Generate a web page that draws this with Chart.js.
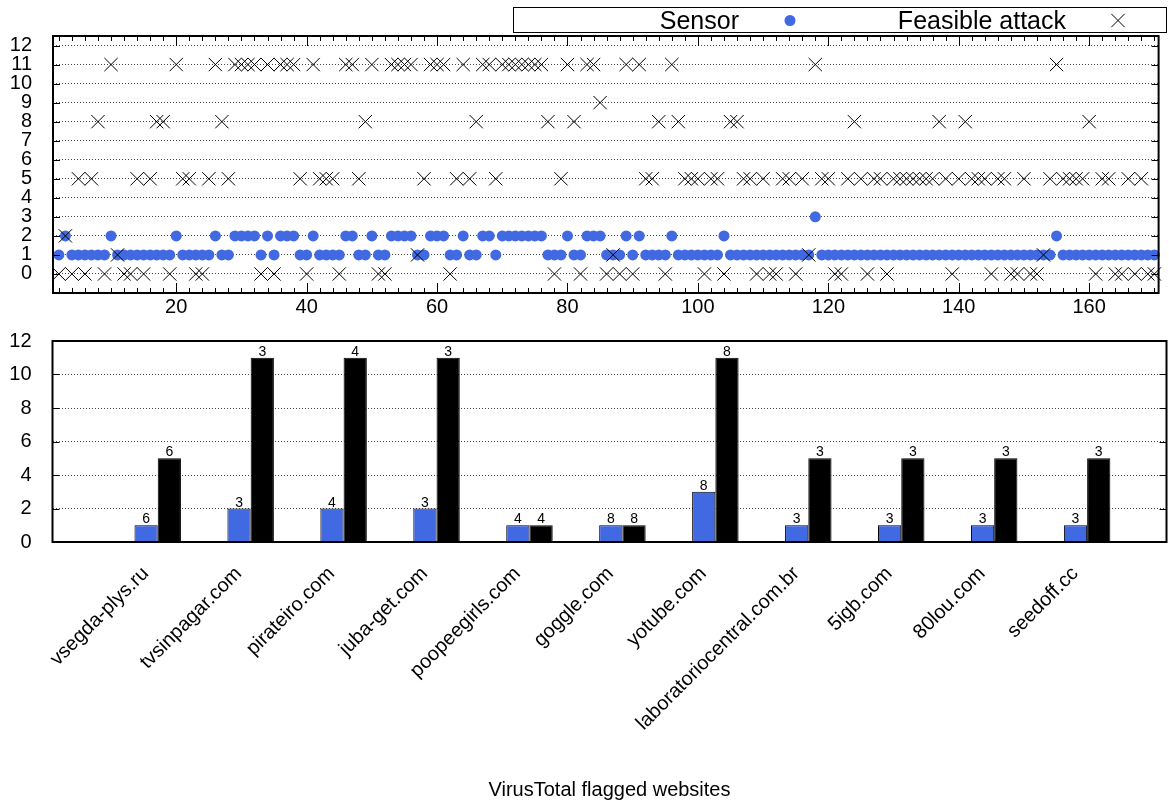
<!DOCTYPE html>
<html>
<head>
<meta charset="utf-8">
<title>Sensor vs feasible attack</title>
<script src="https://cdn.jsdelivr.net/npm/chart.js@4.4.1/dist/chart.umd.min.js"></script>
<style>
  html, body { margin: 0; padding: 0; background: #fff; }
  #wrap { position: relative; width: 1169px; height: 803px; overflow: hidden; background: #fff; }
  #topChart { position: absolute; left: 0; top: 0; width: 1169px; height: 320px; }
  #barChart { position: absolute; left: 0; top: 320px; width: 1169px; height: 483px; }
</style>
</head>
<body>
<div id="wrap">
  <canvas id="topChart" width="1169" height="320"></canvas>
  <canvas id="barChart" width="1169" height="483"></canvas>
</div>
<script>
// ---------- data: per-site levels (site numbers start at 2) ----------
const firstSite = 2;

const sensorLevels = [
  1, 2, 1, 1, 1, 1, 1, 1, 2, 1,   // 2..11
  1, 1, 1, 1, 1, 1, 1, 1, 2, 1,   // 12..21
  1, 1, 1, 1, 2, 1, 1, 2, 2, 2,   // 22..31
  2, 1, 2, 1, 2, 2, 2, 1, 1, 2,   // 32..41
  1, 1, 1, 1, 2, 2, 1, 1, 2, 1,   // 42..51
  1, 2, 2, 2, 2, 1, 1, 2, 2, 2,   // 52..61
  1, 1, 2, 1, 1, 2, 2, 1, 2, 2,   // 62..71
  2, 2, 2, 2, 2, 1, 1, 1, 2, 1,   // 72..81
  1, 2, 2, 2, 1, 1, 1, 2, 1, 2,   // 82..91
  1, 1, 1, 1, 2, 1, 1, 1, 1, 1,   // 92..101
  1, 1, 2, 1, 1, 1, 1, 1, 1, 1,   // 102..111
  1, 1, 1, 1, 1, 1, 3, 1, 1, 1,   // 112..121
  1, 1, 1, 1, 1, 1, 1, 1, 1, 1,   // 122..131
  1, 1, 1, 1, 1, 1, 1, 1, 1, 1,   // 132..141
  1, 1, 1, 1, 1, 1, 1, 1, 1, 1,   // 142..151
  1, 1, 1, 2, 1, 1, 1, 1, 1, 1,   // 152..161
  1, 1, 1, 1, 1, 1, 1, 1, 1       // 162..170
];

const attackLevels = [
  0, 2, 0, 5, 0, 5, 8, 0, 11, 1,      // 2..11
  0, 0, 5, 0, 5, 8, 8, 0, 11, 5,      // 12..21
  5, 0, 0, 5, 11, 8, 5, 11, 11, 11,   // 22..31
  11, 0, 11, 0, 11, 11, 11, 5, 0, 11, // 32..41
  5, 5, 5, 0, 11, 11, 5, 8, 11, 0,    // 42..51
  0, 11, 11, 11, 11, 1, 5, 11, 11, 11,// 52..61
  0, 5, 11, 5, 8, 11, 11, 5, 11, 11,  // 62..71
  11, 11, 11, 11, 11, 8, 0, 5, 11, 8, // 72..81
  0, 11, 11, 9, 0, 1, 0, 11, 0, 11,   // 82..91
  5, 5, 8, 0, 11, 8, 5, 5, 5, 0,      // 92..101
  5, 5, 0, 8, 8, 5, 5, 0, 5, 0,       // 102..111
  0, 5, 5, 0, 5, 1, 11, 5, 5, 0,      // 112..121
  0, 5, 8, 5, 0, 5, 5, 0, 5, 5,       // 122..131
  5, 5, 5, 5, 5, 8, 5, 0, 5, 8,       // 132..141
  5, 5, 5, 0, 5, 5, 0, 0, 5, 0,       // 142..151
  0, 1, 5, 11, 5, 5, 5, 5, 8, 0,      // 152..161
  5, 5, 0, 0, 5, 0, 5, 0, 0           // 162..170
];

const siteTicks = [20, 40, 60, 80, 100, 120, 140, 160];
const levelTicks = [0, 1, 2, 3, 4, 5, 6, 7, 8, 9, 10, 11, 12];

// ---------- data: VirusTotal flagged websites ----------
const flaggedSites = ['vsegda-plys.ru', 'tvsinpagar.com', 'pirateiro.com', 'juba-get.com',
  'poopeegirls.com', 'goggle.com', 'yotube.com', 'laboratoriocentral.com.br',
  '5igb.com', '80lou.com', 'seedoff.cc'];
const sensorCounts = [1, 2, 2, 2, 1, 1, 3, 1, 1, 1, 1];
const attackCounts = [5, 11, 11, 11, 1, 1, 11, 5, 5, 5, 5];
const sensorNotes  = [6, 3, 4, 3, 4, 8, 8, 3, 3, 3, 3];
const attackNotes  = [6, 3, 4, 3, 4, 8, 8, 3, 3, 3, 3];
const countTicks = [0, 2, 4, 6, 8, 10, 12];

// ---------- shared styling ----------
const FONT = "'Liberation Sans', Arial, Helvetica, sans-serif";
const BLUE = '#4169e1';
Chart.defaults.font.family = FONT;
Chart.defaults.color = '#000';

function line(ctx, x1, y1, x2, y2) {
  ctx.beginPath(); ctx.moveTo(x1, y1); ctx.lineTo(x2, y2); ctx.stroke();
}

// fixed axis sizes; label overflow must not push the plot area around
function fixWidth(w) {
  return s => { s.width = w; s.paddingTop = 0; s.paddingBottom = 0; };
}
function fixHeight(h) {
  return s => { s.height = h; s.paddingLeft = 0; s.paddingRight = 0; };
}

// frame around the plot area plus inward tick marks (gnuplot style)
function framePlugin(withMinorX) {
  return {
    id: 'frame',
    afterDraw(chart) {
      const { ctx, chartArea: a } = chart;
      const { x, y } = chart.scales;
      ctx.save();
      ctx.strokeStyle = '#000';
      ctx.lineWidth = 1;
      y.ticks.forEach(t => {
        const py = Math.round(y.getPixelForValue(t.value)) + 0.5;
        line(ctx, a.left, py, a.left + 7, py);
        line(ctx, a.right, py, a.right - 7, py);
      });
      if (withMinorX) {
        for (let v = 2; v <= 170; v += 2) {
          const px = Math.round(x.getPixelForValue(v)) + 0.5;
          const len = v % 20 === 0 ? 10 : 5;
          line(ctx, px, a.bottom, px, a.bottom - len);
          line(ctx, px, a.top, px, a.top + len);
        }
      }
      ctx.lineWidth = 2;
      ctx.strokeRect(a.left, a.top, a.right - a.left, a.bottom - a.top);
      ctx.restore();
    }
  };
}

// horizontal key box at the top of the scatter panel
const keyPlugin = {
  id: 'keyBox',
  afterDraw(chart) {
    const ctx = chart.ctx;
    const ds = chart.data.datasets;
    ctx.save();
    ctx.strokeStyle = '#000';
    ctx.lineWidth = 1;
    ctx.strokeRect(513.5, 7.5, 653, 25);
    ctx.fillStyle = '#000';
    ctx.font = '25px ' + FONT;
    ctx.textAlign = 'right';
    ctx.textBaseline = 'alphabetic';
    ctx.fillText(ds[0].label, 739, 29);
    ctx.fillText(ds[1].label, 1066, 29);
    ctx.fillStyle = BLUE;
    Chart.helpers.drawPoint(ctx, { pointStyle: 'circle', radius: 5.5, borderWidth: 0 }, 790, 20.5);
    ctx.strokeStyle = '#000';
    ctx.fillStyle = 'rgba(0,0,0,0)';
    Chart.helpers.drawPoint(ctx, { pointStyle: 'crossRot', radius: 9.4, borderWidth: 1 }, 1118, 20.5);
    ctx.restore();
  }
};

// small counts written above each bar
const notePlugin = {
  id: 'barNotes',
  afterDatasetsDraw(chart) {
    const ctx = chart.ctx;
    const notes = [sensorNotes, attackNotes];
    ctx.save();
    ctx.fillStyle = '#000';
    ctx.font = '14px ' + FONT;
    ctx.textAlign = 'center';
    ctx.textBaseline = 'alphabetic';
    chart.data.datasets.forEach((d, di) => {
      chart.getDatasetMeta(di).data.forEach((el, i) => {
        ctx.fillText(String(notes[di][i]), el.x, el.y - 2);
      });
    });
    ctx.restore();
  }
};

const dottedGrid = { color: '#444', lineWidth: 1, drawTicks: false };
const dottedBorder = { display: false, dash: [1, 2] };

// ---------- top panel: levels per site ----------
new Chart(document.getElementById('topChart'), {
  type: 'scatter',
  data: {
    datasets: [
      {
        label: 'Sensor',
        data: sensorLevels.map((v, i) => ({ x: firstSite + i, y: v })),
        pointStyle: 'circle',
        pointRadius: 5.5,
        pointBackgroundColor: BLUE,
        pointBorderWidth: 0,
        pointBorderColor: BLUE,
        order: 2,
        clip: false
      },
      {
        label: 'Feasible attack',
        data: attackLevels.map((v, i) => ({ x: firstSite + i, y: v })),
        pointStyle: 'crossRot',
        pointRadius: 9.4,
        pointBackgroundColor: 'rgba(0,0,0,0)',
        pointBorderColor: '#000',
        pointBorderWidth: 1,
        order: 1,
        clip: false
      }
    ]
  },
  options: {
    responsive: false,
    animation: false,
    events: [],
    layout: { padding: { top: 36, right: 2.5, left: 0, bottom: 0 } },
    plugins: { legend: { display: false }, tooltip: { enabled: false } },
    scales: {
      x: {
        type: 'linear',
        min: 1.1,
        max: 170.65,
        afterBuildTicks: s => { s.ticks = siteTicks.map(v => ({ value: v })); },
        afterFit: fixHeight(27),
        grid: { display: false, drawTicks: false },
        border: { display: false },
        ticks: { font: { size: 20 }, padding: 2, maxRotation: 0, autoSkip: false }
      },
      y: {
        min: -1,
        max: 12.5,
        afterBuildTicks: s => { s.ticks = levelTicks.map(v => ({ value: v })); },
        afterFit: fixWidth(53),
        grid: dottedGrid,
        border: dottedBorder,
        ticks: { font: { size: 20 }, padding: 21, autoSkip: false }
      }
    }
  },
  plugins: [framePlugin(true), keyPlugin]
});

// ---------- bottom panel: flagged websites ----------
new Chart(document.getElementById('barChart'), {
  type: 'bar',
  data: {
    datasets: [
      {
        label: 'Sensor',
        data: sensorCounts.map((v, i) => ({ x: i, y: v })),
        backgroundColor: BLUE,
        borderColor: '#000',
        borderWidth: 1,
        borderSkipped: 'start',
        categoryPercentage: 0.5,
        barPercentage: 1
      },
      {
        label: 'Feasible attack',
        data: attackCounts.map((v, i) => ({ x: i, y: v })),
        backgroundColor: '#000',
        borderColor: '#000',
        borderWidth: 1,
        borderSkipped: 'start',
        categoryPercentage: 0.5,
        barPercentage: 1
      }
    ]
  },
  options: {
    responsive: false,
    animation: false,
    events: [],
    layout: { padding: { top: 21, right: 2.5, left: 0, bottom: 0 } },
    plugins: { legend: { display: false }, tooltip: { enabled: false } },
    scales: {
      x: {
        type: 'linear',
        offset: false,
        min: -1.132,
        max: 10.854,
        afterBuildTicks: s => { s.ticks = flaggedSites.map((_, i) => ({ value: i })); },
        afterFit: fixHeight(261),
        grid: { display: false, drawTicks: false },
        border: { display: false },
        ticks: {
          autoSkip: false,
          minRotation: 45,
          maxRotation: 45,
          font: { size: 20 },
          padding: 20,
          labelOffset: -12,
          callback: v => flaggedSites[v]
        },
        title: {
          display: true,
          text: 'VirusTotal flagged websites',
          font: { size: 20 },
          padding: { top: 0, bottom: 1 }
        }
      },
      y: {
        min: 0,
        max: 12,
        afterBuildTicks: s => { s.ticks = countTicks.map(v => ({ value: v })); },
        afterFit: fixWidth(52.5),
        grid: dottedGrid,
        border: dottedBorder,
        ticks: { font: { size: 20 }, padding: 21, autoSkip: false }
      }
    }
  },
  plugins: [framePlugin(false), notePlugin]
});
</script>
</body>
</html>
